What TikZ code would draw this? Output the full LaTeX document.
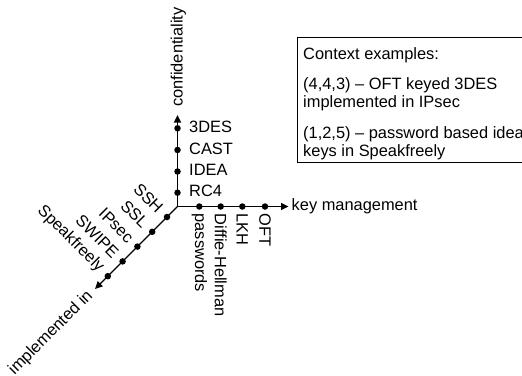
\documentclass[tikz,border=0pt]{standalone}
\usepackage{fontspec}
\setmainfont{Liberation Sans}
\usetikzlibrary{arrows.meta,calc}
\begin{document}
\begin{tikzpicture}[x=1pt,y=-1pt,
  every node/.style={font=\fontsize{16.4}{18}\selectfont, inner sep=0pt},
  axis/.style={line width=1.2pt, -{Triangle[length=7.5pt,width=7pt]}},
  dotnode/.style={circle, fill=black, minimum size=6.5pt, inner sep=0pt},
  vlab/.style={anchor=west},
  hlab/.style={rotate=-90, anchor=west},
  dlab/.style={rotate=-45, anchor=east},
  boxstyle/.style={draw, line width=1pt, anchor=north west, minimum width=270, minimum height=125}]
\useasboundingbox (0,0) rectangle (522,375);
\clip (0,0) rectangle (522,375);

% axes
\coordinate (O) at (177.5,206.5);
\coordinate (tv) at (177.5,115);
\coordinate (th) at (288.5,206.5);
\coordinate (td) at (95,289);
\draw[axis] (O) -- (tv);
\draw[axis] (O) -- (th);
\draw[axis] (O) -- (td);

% confidentiality axis
\node[dotnode] (c1) at (177.5,192.7) {};
\node[dotnode] (c2) at (177.5,171.5) {};
\node[dotnode] (c3) at (177.5,150) {};
\node[dotnode] (c4) at (177.5,128.3) {};
\node[vlab] (lc1) at ($(c1)+(11.5,-1.5)$) {RC4};
\node[vlab] (lc2) at ($(c2)+(11.5,-1.5)$) {IDEA};
\node[vlab] (lc3) at ($(c3)+(11.5,-1.5)$) {CAST};
\node[vlab] (lc4) at ($(c4)+(11.5,-1.5)$) {3DES};
\node[rotate=90, anchor=west] (ax1) at ($(tv)+(1,-8)$) {confidentiality};

% key management axis
\node[dotnode] (k1) at (199.3,206.5) {};
\node[dotnode] (k2) at (220.7,206.5) {};
\node[dotnode] (k3) at (242.3,206.5) {};
\node[dotnode] (k4) at (265,206.5) {};
\node[hlab] (lk1) at ($(k1)+(0,7)$) {passwords};
\node[hlab] (lk2) at ($(k2)+(0,7)$) {Diffie-Hellman};
\node[hlab] (lk3) at ($(k3)+(0,7)$) {LKH};
\node[hlab] (lk4) at ($(k4)+(0,7)$) {OFT};
\node[anchor=west] (ax2) at ($(th)+(3,0)$) {key management};

% implemented in axis
\node[dotnode] (s1) at (167,217) {};
\node[dotnode] (s2) at (152.2,231.8) {};
\node[dotnode] (s3) at (137.4,246.6) {};
\node[dotnode] (s4) at (122.6,261.4) {};
\node[dotnode] (s5) at (107.8,276.2) {};
\node[dlab] (ls1) at ($(s1)+(-6.5,-6.5)$) {SSH};
\node[dlab] (ls2) at ($(s2)+(-6.5,-6.5)$) {SSL};
\node[dlab] (ls3) at ($(s3)+(-6.5,-6.5)$) {IPsec};
\node[dlab] (ls4) at ($(s4)+(-6.5,-6.5)$) {SWIPE};
\node[dlab] (ls5) at ($(s5)+(-6.5,-6.5)$) {Speakfreely};
\node[rotate=45, anchor=east] (ax3) at ($(td)+(-4.5,4.5)$) {implemented in};

% context box
\node[boxstyle] (box) at (297,37) {};
\node[anchor=north west, align=left] (ctx) at (303,47.5)
  {Context examples:\\[12pt]
   (4,4,3) -- OFT keyed 3DES\\
   implemented in IPsec\\[13pt]
   (1,2,5) -- password based idea\\
   keys in Speakfreely};
\end{tikzpicture}
\end{document}
